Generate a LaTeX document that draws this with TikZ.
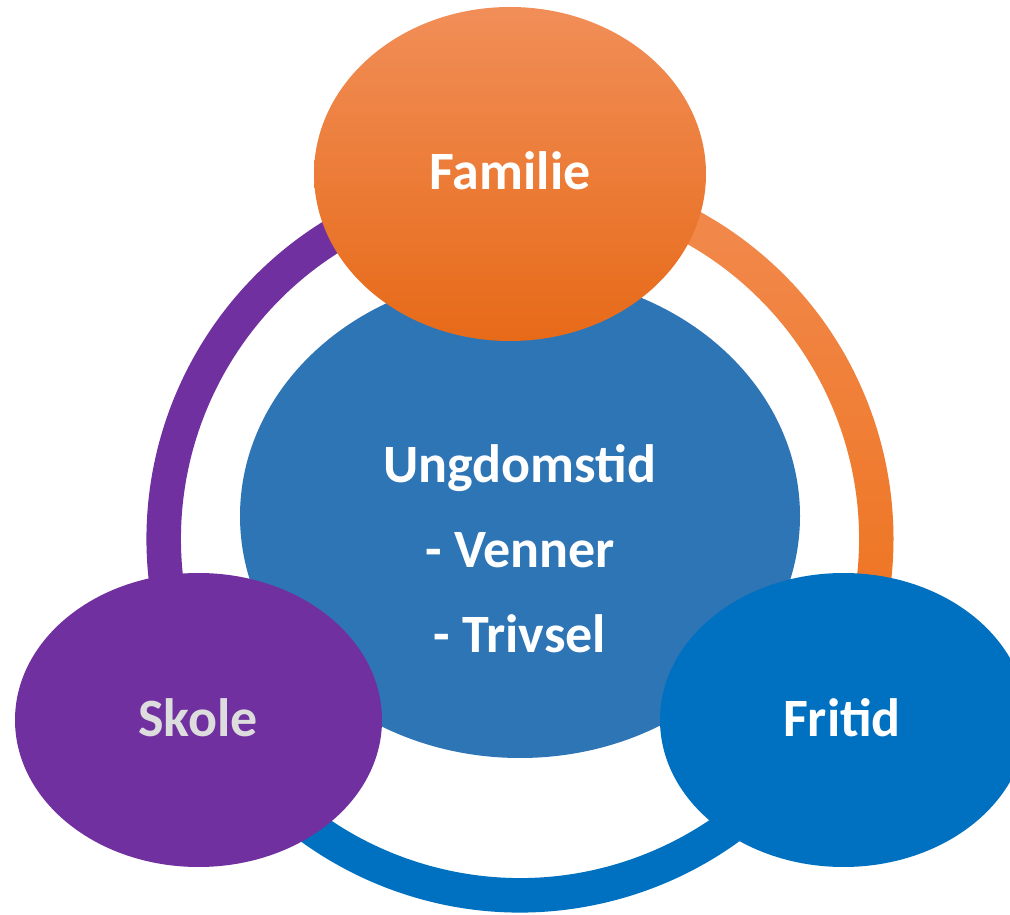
\documentclass[tikz,border=0pt]{standalone}
\usepackage{fontspec}
\setmainfont{Carlito}
\usetikzlibrary{shapes.geometric}
\definecolor{ringpurple}{HTML}{7030A0}
\definecolor{ringblue}{HTML}{0070C0}
\definecolor{centerblue}{HTML}{2E75B6}
\definecolor{orangetop}{HTML}{F18E58}
\definecolor{orangemid}{HTML}{F47B2A}
\definecolor{orangebot}{HTML}{E76A18}
\definecolor{arctop}{HTML}{F28D55}
\definecolor{arcbot}{HTML}{EE7420}
\definecolor{skoletext}{HTML}{DDDDDD}
\tikzset{
  blob/.style={ellipse, inner sep=0pt, draw=none},
  lbl/.style={anchor=base, font=\bfseries\fontsize{54}{60}\selectfont, text=white, inner sep=0pt},
}
\begin{document}
\begin{tikzpicture}[x=1pt,y=1pt]
\useasboundingbox (0,0) rectangle (1010,914);
\clip (0,0) rectangle (1010,914);
\coordinate (rc) at (520,375);
% ring segments
\fill[ringpurple] ([shift={(rc)}]110:373.5pt) arc[start angle=110, end angle=195, radius=373.5pt]
  -- ([shift={(rc)}]195:339pt) arc[start angle=195, end angle=110, radius=339pt] -- cycle;
\fill[ringblue] ([shift={(rc)}]195:373.5pt) arc[start angle=195, end angle=345, radius=373.5pt]
  -- ([shift={(rc)}]345:339pt) arc[start angle=345, end angle=195, radius=339pt] -- cycle;
\shade[top color=arctop, bottom color=arcbot] ([shift={(rc)}]110:373.5pt) arc[start angle=110, end angle=-15, radius=373.5pt]
  -- ([shift={(rc)}]-15:339pt) arc[start angle=-15, end angle=110, radius=339pt] -- cycle;
% ellipses
\node[blob, fill=centerblue, minimum width=560pt, minimum height=484pt] (center) at (520,398) {};
\node[blob, top color=orangetop, middle color=orangemid, bottom color=orangebot, minimum width=392pt, minimum height=334pt] (familie) at (510,740) {};
\node[blob, fill=ringpurple, minimum width=367pt, minimum height=294pt] (skole) at (198.5,194) {};
\node[blob, fill=ringblue, minimum width=367pt, minimum height=294pt] (fritid) at (843.5,194) {};
% labels
\node[lbl] (tfam) at (510,724) {Familie};
\node[lbl] (tung) at (520,431) {Ungdomstid};
\node[lbl] (tven) at (520,346) {- Venner};
\node[lbl] (ttri) at (520,261) {- Trivsel};
\node[lbl, text=skoletext] (tsko) at (198,178) {Skole};
\node[lbl] (tfri) at (842,178) {Fritid};
\end{tikzpicture}
\end{document}
